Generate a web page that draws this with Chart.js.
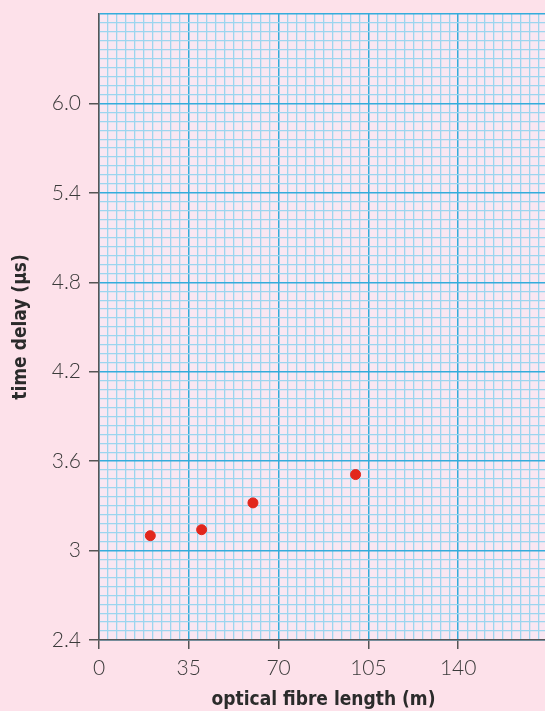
<!DOCTYPE html>
<html>
<head>
<meta charset="utf-8">
<script src="https://cdn.jsdelivr.net/npm/chart.js@4"></script>
<style>
  body { margin: 0; background: #fde1ea; overflow: hidden; }
  #wrap { position: relative; width: 560px; height: 711px; }
</style>
</head>
<body>
<div id="wrap"><canvas id="fibreChart"></canvas></div>
<script>
const fibreLength = [20, 40, 60, 100]
const timeDelay = [3.10, 3.14, 3.32, 3.51]
const xTickLabels = ['0', '35', '70', '105', '140']
const yTickLabels = ['2.4', '3', '3.6', '4.2', '4.8', '5.4', '6.0']

const xMajor = 35
const yMin = 2.4
const yMax = 6.6
const yMajor = 0.6

const isMajor = (v, base, step) => {
  const n = (v - base) / step
  return Math.abs(n - Math.round(n)) < 1e-6
}

const majorColor = '#34acdb'
const minorColor = '#9cd5ef'
const tickMark = '#555555'
const titleFont = "'Liberation Sans Narrow', 'DejaVu Sans Condensed', 'Arial Narrow', Roboto, sans-serif"

// paper colour inside the plot
const paperBg = {
  id: 'paperBg',
  beforeDraw: chart => {
    const { ctx, chartArea } = chart
    ctx.save()
    ctx.fillStyle = '#f9e7f2'
    ctx.fillRect(chartArea.left, chartArea.top, chartArea.right - chartArea.left, chartArea.bottom - chartArea.top)
    ctx.restore()
  }
}

new Chart(document.getElementById('fibreChart'), {
  type: 'scatter',
  data: {
    datasets: [{
      data: fibreLength.map((x, i) => ({ x: x, y: timeDelay[i] })),
      backgroundColor: '#e2261c',
      borderColor: '#e2261c',
      pointRadius: 5,
      pointHoverRadius: 5
    }]
  },
  options: {
    responsive: true,
    maintainAspectRatio: false,
    animation: false,
    layout: { padding: { top: 14, right: 12, left: 0, bottom: 0 } },
    plugins: {
      legend: { display: false },
      tooltip: { enabled: false }
    },
    scales: {
      x: {
        type: 'linear',
        min: 0,
        max: 175,
        afterFit: scale => {
          scale.height = 71
          scale.paddingLeft = 0
          scale.paddingRight = 0
        },
        ticks: {
          stepSize: 3.5,
          autoSkip: false,
          maxRotation: 0,
          padding: 7,
          color: '#3a3a3a',
          font: { family: 'Lato', size: 21, weight: 300 },
          callback: v => isMajor(v, 0, xMajor) ? (xTickLabels[Math.round(v / xMajor)] || '') : ''
        },
        grid: {
          color: c => isMajor(c.tick.value, 0, xMajor) ? majorColor : minorColor,
          lineWidth: c => isMajor(c.tick.value, 0, xMajor) ? 1.5 : 1.3,
          tickColor: c => isMajor(c.tick.value, 0, xMajor) ? tickMark : 'rgba(0,0,0,0)',
          tickLength: 9,
          tickWidth: 1.5
        },
        border: { color: '#555555', width: 1.5 },
        title: {
          display: true,
          text: 'optical fibre length (m)',
          color: '#2b2b2b',
          font: { family: titleFont, size: 19, weight: 'bold' },
          padding: { top: 0, bottom: 0 }
        }
      },
      y: {
        type: 'linear',
        min: yMin,
        max: yMax,
        afterFit: scale => {
          scale.width = 99
          scale.paddingTop = 0
          scale.paddingBottom = 0
        },
        ticks: {
          stepSize: 0.06,
          autoSkip: false,
          padding: 8,
          color: '#3a3a3a',
          font: { family: 'Lato', size: 21, weight: 300 },
          callback: v => isMajor(v, yMin, yMajor) ? (yTickLabels[Math.round((v - yMin) / yMajor)] || '') : ''
        },
        grid: {
          color: c => isMajor(c.tick.value, yMin, yMajor) ? majorColor : minorColor,
          lineWidth: c => isMajor(c.tick.value, yMin, yMajor) ? 1.5 : 1.3,
          tickColor: c => (isMajor(c.tick.value, yMin, yMajor) && c.tick.value < yMax - 0.01) ? tickMark : 'rgba(0,0,0,0)',
          tickLength: 10,
          tickWidth: 1.5
        },
        border: { color: '#555555', width: 1.5 },
        title: {
          display: true,
          text: 'time delay (µs)',
          color: '#2b2b2b',
          font: { family: titleFont, size: 19, weight: 'bold' },
          padding: { top: 10, bottom: 0 }
        }
      }
    }
  },
  plugins: [paperBg]
})
</script>
</body>
</html>
